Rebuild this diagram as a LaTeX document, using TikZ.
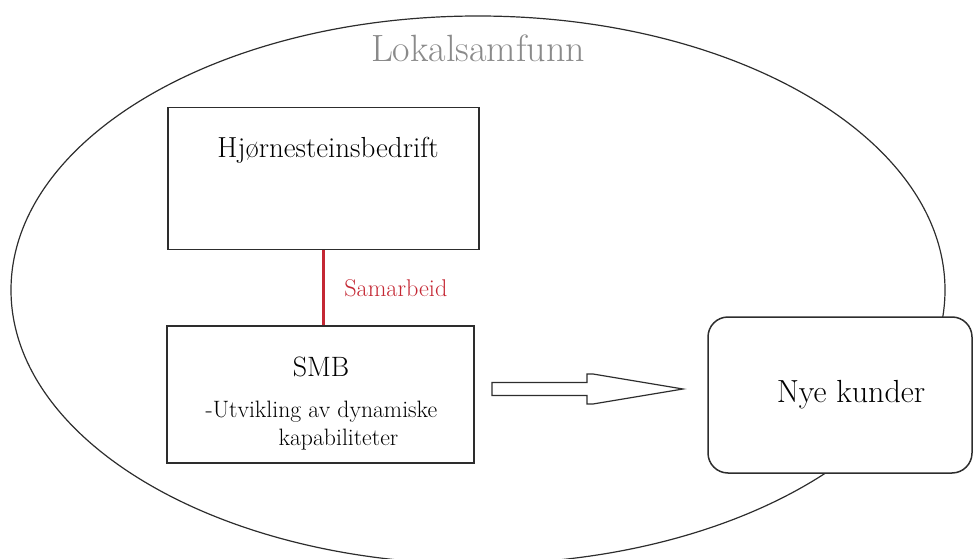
\documentclass[tikz,border=0pt]{standalone}
\usepackage{fontspec}
\definecolor{samred}{RGB}{196,40,52}
\definecolor{linegray}{RGB}{45,45,45}
\definecolor{labelgray}{RGB}{138,138,138}
\tikzstyle{firm box}=[
        draw = linegray,
        line width = 1.5pt,
        fill = white,
        inner sep = 0pt
    ]
\tikzstyle{round box}=[
    firm box,
    rounded corners = 20pt
]
\tikzstyle{plain text}=[
    inner sep = 0pt,
    text = black
]

\begin{document}
\begin{tikzpicture}[x=1pt, y=-1pt, line width=1.2pt]
        \useasboundingbox (0,0) rectangle (975,559);

        % Lokalsamfunn
        \draw[linegray] (478,290) ellipse [x radius = 467pt, y radius = 274pt];
        \node[plain text, text = labelgray, anchor = base] (loktext) at (478,62) {\rmfamily\fontsize{38}{38}\selectfont Lokalsamfunn};

        \node[firm box, minimum width = 311pt, minimum height = 142pt] (hj) at (323.5,178.5) {};
        \node[plain text, anchor = base] (hjtext) at (328,158) {\rmfamily\fontsize{29}{29}\selectfont Hjørnesteinsbedrift};

        \node[firm box, minimum width = 307pt, minimum height = 137pt] (smb) at (320.5,394.5) {};
        \node[plain text, anchor = base] (smbtext) at (321,376) {\rmfamily\fontsize{28}{28}\selectfont SMB};
        \node[plain text, anchor = base west] (utv) at (205,417) {\rmfamily\fontsize{23.7}{23.7}\selectfont -Utvikling av dynamiske};
        \node[plain text, anchor = base west] (kap) at (278,445) {\rmfamily\fontsize{23.7}{23.7}\selectfont kapabiliteter};

        \node[round box, minimum width = 264pt, minimum height = 156pt] (kunder) at (840,395) {};
        \node[plain text, anchor = base] (kundertext) at (851,402) {\rmfamily\fontsize{32}{32}\selectfont Nye kunder};

        \draw[samred, line width = 3pt] (hj.south) -- (hj.south |- smb.north) node [midway, right, xshift = 16pt, text = samred] {\rmfamily\fontsize{24.2}{24.2}\selectfont Samarbeid};

        \coordinate (arrtail) at (492,389);
        \coordinate (arrtip) at (683,389);
        \draw[linegray, fill = white] (arrtail) ++(0,-6.5) -- ++(95,0) -- ++(0,-8.5) -- ++(6,0) -- (arrtip) -- ++(-90,15) -- ++(-6,0) -- ++(0,-8.5) -- ++(-95,0) -- cycle;

    \end{tikzpicture}
\end{document}
